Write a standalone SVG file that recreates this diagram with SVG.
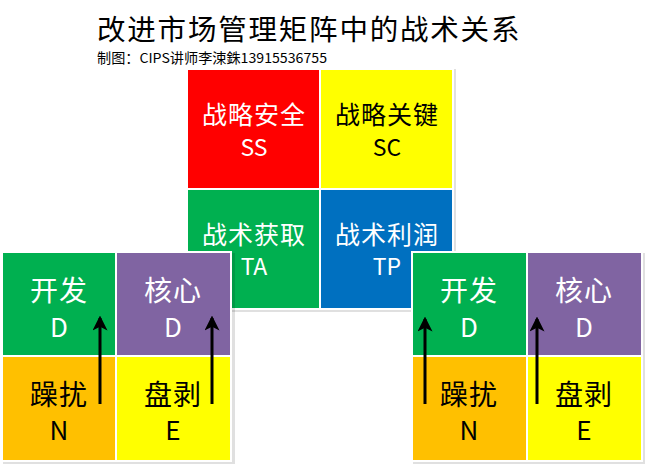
<svg xmlns="http://www.w3.org/2000/svg" width="650" height="466" viewBox="0 0 650 466">
<defs>
<style>
text{font-family:"Noto Sans CJK SC","Microsoft YaHei",sans-serif;text-anchor:middle}
.t{fill:#000;text-anchor:start}
.w{fill:#fff}
.k{fill:#000}
.big{font-size:25px;letter-spacing:1px}
.lat{font-size:23px}
.cn2{font-size:28px;letter-spacing:1px}
.lat2{font-size:26px}
.sh{fill:#000;opacity:0.12}
.arr{stroke:#000;stroke-width:3;fill:none;marker-end:url(#ah)}
</style>
<marker id="ah" viewBox="0 0 12 12" refX="10" refY="6" markerWidth="5" markerHeight="5" orient="auto" markerUnits="strokeWidth">
<path d="M0,0 L12,6 L0,12 L3,6 Z" fill="#000"/>
</marker>
</defs>
<rect width="650" height="466" fill="#fff"/>
<text class="t" x="97" y="40" font-size="28.5" letter-spacing="1.8">改进市场管理矩阵中的战术关系</text>
<text class="t" x="97" y="63" font-size="13.5" textLength="230" lengthAdjust="spacingAndGlyphs">制图：CIPS讲师李涑銖13915536755</text>

<g id="top-matrix">
<rect class="sh" x="187" y="69" width="269" height="243"/>
<rect x="186" y="68" width="268" height="242" fill="#fff"/>
<g id="ss"><rect x="188" y="70" width="131" height="118" fill="#FF0000"/>
<text class="w big" x="254" y="124">战略安全</text><text class="w lat" x="254" y="156">SS</text></g>
<g id="sc"><rect x="321" y="70" width="131" height="118" fill="#FFFF00"/>
<text class="k big" x="387" y="124">战略关键</text><text class="k lat" x="387" y="156">SC</text></g>
<g id="ta"><rect x="188" y="190" width="131" height="118" fill="#00B050"/>
<text class="w big" x="254" y="244">战术获取</text><text class="w lat" x="254" y="275">TA</text></g>
<g id="tp"><rect x="321" y="190" width="131" height="118" fill="#0070C0"/>
<text class="w big" x="387" y="244">战术利润</text><text class="w lat" x="387" y="275">TP</text></g>
</g>

<g id="left-matrix">
<rect class="sh" x="3" y="253" width="232" height="211"/>
<rect x="1" y="251" width="231" height="211" fill="#fff"/>
<g id="l-d1"><rect x="3" y="253" width="112" height="102" fill="#00B050"/>
<text class="w cn2" x="59" y="301">开发</text><text class="w lat2" x="59" y="337">D</text></g>
<g id="l-d2"><rect x="117" y="253" width="113" height="102" fill="#8064A2"/>
<text class="w cn2" x="173" y="301">核心</text><text class="w lat2" x="173" y="337">D</text></g>
<g id="l-n"><rect x="3" y="357" width="112" height="103" fill="#FFC000"/>
<text class="k cn2" x="59" y="405">躁扰</text><text class="k lat2" x="59" y="440">N</text></g>
<g id="l-e"><rect x="117" y="357" width="113" height="103" fill="#FFFF00"/>
<text class="k cn2" x="173" y="405">盘剥</text><text class="k lat2" x="173" y="440">E</text></g>
</g>

<g id="right-matrix">
<rect class="sh" x="413" y="253" width="232" height="211"/>
<rect x="411" y="251" width="232" height="211" fill="#fff"/>
<g id="r-d1"><rect x="413" y="253" width="113" height="102" fill="#00B050"/>
<text class="w cn2" x="469" y="301">开发</text><text class="w lat2" x="469" y="337">D</text></g>
<g id="r-d2"><rect x="528" y="253" width="113" height="102" fill="#8064A2"/>
<text class="w cn2" x="584" y="301">核心</text><text class="w lat2" x="584" y="337">D</text></g>
<g id="r-n"><rect x="413" y="357" width="113" height="103" fill="#FFC000"/>
<text class="k cn2" x="469" y="405">躁扰</text><text class="k lat2" x="469" y="440">N</text></g>
<g id="r-e"><rect x="528" y="357" width="113" height="103" fill="#FFFF00"/>
<text class="k cn2" x="584" y="405">盘剥</text><text class="k lat2" x="584" y="440">E</text></g>
</g>

<g id="connectors">
<path class="arr" d="M100,404 V318"/>
<path class="arr" d="M212,404 V318"/>
<path class="arr" d="M425,404 V319"/>
<path class="arr" d="M537,404 V319"/>
</g>
</svg>
